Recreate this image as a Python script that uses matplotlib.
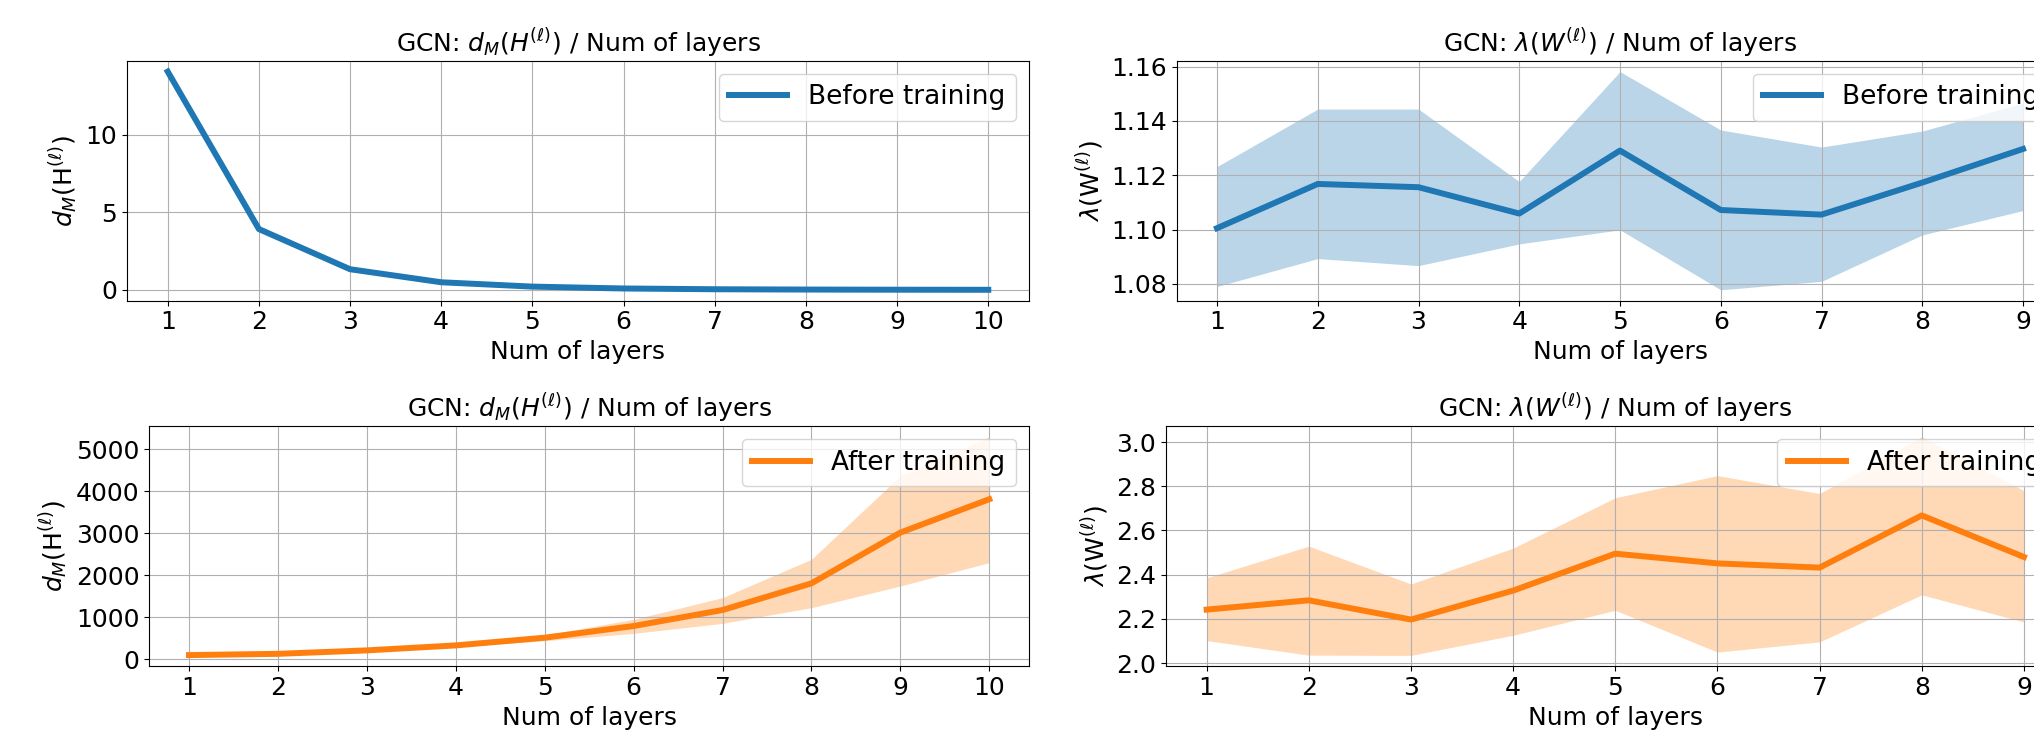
import matplotlib
matplotlib.use("Agg")
import matplotlib.pyplot as plt
from matplotlib.ticker import MultipleLocator

plt.rcParams['font.family'] = ['DejaVu Sans']
plt.rcParams['font.size'] = 18

# ---------------- data ----------------
layers_left = [1, 2, 3, 4, 5, 6, 7, 8, 9, 10]
layers_right = [1, 2, 3, 4, 5, 6, 7, 8, 9]

# top-left: d_M(H) before training
dm_before = [14.07, 3.92, 1.33, 0.49, 0.21, 0.09, 0.04, 0.02, 0.01, 0.005]

# top-right: lambda(W) before training
lam_before_mean = [1.1005, 1.1168, 1.1156, 1.1059, 1.1291, 1.1072, 1.1055, 1.1173, 1.1297]
lam_before_upper = [1.1232, 1.1444, 1.1444, 1.1177, 1.1582, 1.1367, 1.1304, 1.1363, 1.1466]
lam_before_lower = [1.0790, 1.0893, 1.0867, 1.0947, 1.0999, 1.0778, 1.0809, 1.0980, 1.1070]

# bottom-left: d_M(H) after training
dm_after_mean = [95, 125, 207, 326, 510, 788, 1170, 1807, 3018, 3814]
dm_after_upper = [102, 140, 235, 365, 573, 947, 1465, 2381, 4371, 5300]
dm_after_lower = [88, 110, 180, 290, 438, 613, 852, 1226, 1744, 2301]

# bottom-right: lambda(W) after training
lam_after_mean = [2.242, 2.284, 2.197, 2.328, 2.495, 2.451, 2.432, 2.668, 2.480]
lam_after_upper = [2.386, 2.529, 2.358, 2.520, 2.748, 2.848, 2.767, 3.023, 2.780]
lam_after_lower = [2.102, 2.036, 2.035, 2.126, 2.239, 2.050, 2.096, 2.309, 2.186]

title_dm = r'GCN: $d_M(H^{(\ell)})$ / Num of layers'
title_lam = r'GCN: $\lambda(W^{(\ell)})$ / Num of layers'
ylabel_dm = r'$d_M(\mathrm{H}^{(\ell)})$'
ylabel_lam = r'$\lambda(\mathrm{W}^{(\ell)})$'
xlabel = 'Num of layers'
label_before = 'Before training'
label_after = 'After training'

# ---------------- figure ----------------
W, H = 2034, 738
fig = plt.figure(figsize=(W / 100, H / 100), dpi=100)

def rect(left, top, right, bottom):
    return [left / W, 1 - bottom / H, (right - left) / W, (bottom - top) / H]

ax_tl = fig.add_axes(rect(126.7, 60.7, 1029.3, 300.7))
ax_tr = fig.add_axes(rect(1176.7, 60.7, 2063.3, 300.7))
ax_bl = fig.add_axes(rect(149.0, 426.0, 1029.3, 666.3))
ax_br = fig.add_axes(rect(1165.8, 426.0, 2064.8, 666.3))

C0 = '#1f77b4'
C1 = '#ff7f0e'
LW = 4.3

ax_tl.plot(layers_left, dm_before, color=C0, lw=LW, label=label_before)
ax_tl.set_title(title_dm, fontsize=18)
ax_tl.set_ylabel(ylabel_dm)

ax_tr.plot(layers_right, lam_before_mean, color=C0, lw=LW, label=label_before)
ax_tr.fill_between(layers_right, lam_before_lower, lam_before_upper, color=C0, alpha=0.3, lw=0)
ax_tr.set_title(title_lam, fontsize=18)
ax_tr.set_ylabel(ylabel_lam)

ax_bl.plot(layers_left, dm_after_mean, color=C1, lw=LW, label=label_after)
ax_bl.fill_between(layers_left, dm_after_lower, dm_after_upper, color=C1, alpha=0.3, lw=0)
ax_bl.set_title(title_dm, fontsize=18)
ax_bl.set_ylabel(ylabel_dm)
ax_bl.yaxis.set_major_locator(MultipleLocator(1000))

ax_br.plot(layers_right, lam_after_mean, color=C1, lw=LW, label=label_after)
ax_br.fill_between(layers_right, lam_after_lower, lam_after_upper, color=C1, alpha=0.3, lw=0)
ax_br.set_title(title_lam, fontsize=18)
ax_br.set_ylabel(ylabel_lam)

ax_tr.set_yticks([1.08, 1.10, 1.12, 1.14, 1.16])
ax_br.set_yticks([2.0, 2.2, 2.4, 2.6, 2.8, 3.0])

for ax, xs in [(ax_tl, layers_left), (ax_tr, layers_right), (ax_bl, layers_left), (ax_br, layers_right)]:
    ax.set_xticks(xs)
    ax.set_xlabel(xlabel)
    ax.grid(True)
    ax.legend(loc='upper right', fontsize=19, handlelength=2.2)

fig.savefig('out.png', dpi=100)
